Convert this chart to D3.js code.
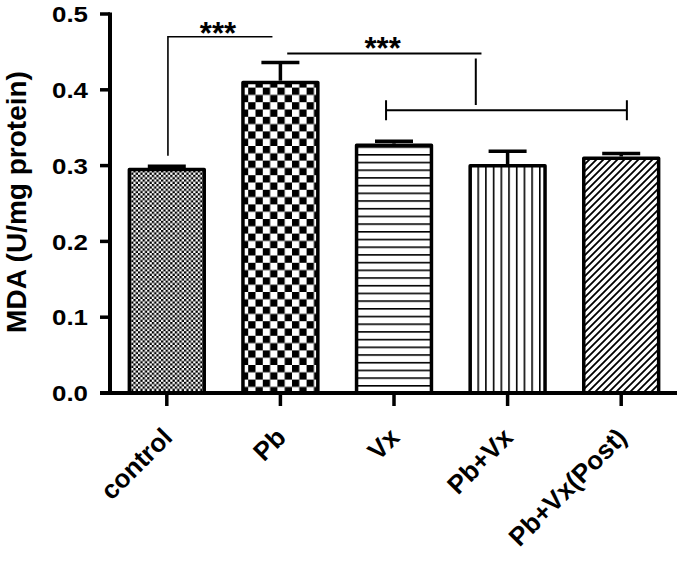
<!DOCTYPE html>
<html>
  <head>
    <meta charset="UTF-8">
    <title>MDA</title>
    <script src="https://d3js.org/d3.v7.min.js"></script>
    <style>
      body { margin: 0; background: #fff; }
      text { font-family: "Liberation Sans", Arial, sans-serif; font-weight: bold; fill: #000; }
    </style>
  </head>
  <body>
    <svg width="685" height="561"></svg>

    <script>

const categories = ["control", "Pb", "Vx", "Pb+Vx", "Pb+Vx(Post)"];
const means = [0.297, 0.412, 0.329, 0.302, 0.312];
const errors = [0.002, 0.024, 0.003, 0.017, 0.004];
const fills = ["fineCheck", "coarseCheck", "hLines", "vLines", "diagLines"];
const yTicks = [0.0, 0.1, 0.2, 0.3, 0.4, 0.5];

// significance brackets, x in category index units, y in data units
const bracketA = { from: 0.01, to: 0.93, y: 0.47, legBottom: 0.313, starsAt: 0.45 };
const bracketB = { from: 1.06, to: 2.77, y: 0.448, drop: 2.72, dropBottom: 0.38,
                   lowFrom: 1.93, lowTo: 4.05, lowY: 0.373, starsAt: 1.90 };

const svg = d3.select("svg");

const x = d3.scaleBand()
  .domain(categories)
  .range([110, 678])
  .paddingInner(0.31)
  .paddingOuter(0.155);

const y = d3.scaleLinear().domain([0, 0.5]).range([393, 14]);

// category index -> pixel (centre of band)
const xi = d3.scaleLinear()
  .domain([0, 1])
  .range([x(categories[0]) + x.bandwidth() / 2, x(categories[1]) + x.bandwidth() / 2]);

// patterns
const defs = svg.append("defs");

function checker(id, s) {
  const p = defs.append("pattern").attr("id", id)
    .attr("patternUnits", "userSpaceOnUse")
    .attr("width", s * 2).attr("height", s * 2);
  p.append("rect").attr("width", s * 2).attr("height", s * 2).attr("fill", "#fff");
  p.append("rect").attr("width", s).attr("height", s).attr("fill", "#000");
  p.append("rect").attr("x", s).attr("y", s).attr("width", s).attr("height", s).attr("fill", "#000");
}
checker("fineCheck", 2.3);
checker("coarseCheck", 7.3);

const hl = defs.append("pattern").attr("id", "hLines")
  .attr("patternUnits", "userSpaceOnUse").attr("width", 10).attr("height", 7.7);
hl.append("rect").attr("width", 10).attr("height", 7.7).attr("fill", "#fff");
hl.append("rect").attr("width", 10).attr("height", 1.6).attr("fill", "#000");

const vl = defs.append("pattern").attr("id", "vLines")
  .attr("patternUnits", "userSpaceOnUse").attr("width", 7.7).attr("height", 10);
vl.append("rect").attr("width", 7.7).attr("height", 10).attr("fill", "#fff");
vl.append("rect").attr("width", 1.6).attr("height", 10).attr("fill", "#000");

const dl = defs.append("pattern").attr("id", "diagLines")
  .attr("patternUnits", "userSpaceOnUse").attr("width", 7).attr("height", 7);
dl.append("rect").attr("width", 7).attr("height", 7).attr("fill", "#fff");
dl.append("path").attr("d", "M-1,8 L8,-1 M-2,2 L2,-2 M5,9 L9,5")
  .attr("stroke", "#000").attr("stroke-width", 1.8);

const rows = categories.map((c, i) => ({ c, m: means[i], e: errors[i], f: fills[i] }));

// error bars (upper only)
const eb = svg.append("g").attr("stroke", "#000").attr("stroke-width", 3.5);
eb.selectAll("line.v").data(rows).join("line").attr("class", "v")
  .attr("x1", d => x(d.c) + x.bandwidth() / 2).attr("x2", d => x(d.c) + x.bandwidth() / 2)
  .attr("y1", d => y(d.m)).attr("y2", d => y(d.m + d.e));
eb.selectAll("line.cap").data(rows).join("line").attr("class", "cap")
  .attr("x1", d => x(d.c) + x.bandwidth() / 2 - 19).attr("x2", d => x(d.c) + x.bandwidth() / 2 + 19)
  .attr("y1", d => y(d.m + d.e)).attr("y2", d => y(d.m + d.e));

// bars
const sw = 3.5;
svg.append("g").selectAll("rect").data(rows).join("rect")
  .attr("x", d => x(d.c) + sw / 2)
  .attr("width", x.bandwidth() - sw)
  .attr("y", d => y(d.m) + sw / 2)
  .attr("height", d => y(0) - y(d.m) - sw / 2)
  .attr("fill", d => `url(#${d.f})`)
  .attr("stroke", "#000").attr("stroke-width", sw)
  .attr("stroke-linejoin", "round");

// axes
const axes = svg.append("g").attr("stroke", "#000");
axes.append("line").attr("x1", 110).attr("x2", 110).attr("y1", y(0.5) - 1.5).attr("y2", y(0))
  .attr("stroke-width", 4);
axes.append("line").attr("x1", 100).attr("x2", 677).attr("y1", y(0)).attr("y2", y(0))
  .attr("stroke-width", 4);
axes.selectAll("line.yt").data(yTicks).join("line").attr("class", "yt")
  .attr("x1", 100).attr("x2", 110).attr("y1", d => y(d)).attr("y2", d => y(d))
  .attr("stroke-width", 3.5);
axes.selectAll("line.xt").data(categories).join("line").attr("class", "xt")
  .attr("x1", d => x(d) + x.bandwidth() / 2).attr("x2", d => x(d) + x.bandwidth() / 2)
  .attr("y1", y(0)).attr("y2", y(0) + 13)
  .attr("stroke-width", 3.5);

svg.append("g").selectAll("text").data(yTicks).join("text")
  .attr("transform", d => `translate(88,${y(d)}) scale(1.15,1)`)
  .attr("dy", "0.36em")
  .attr("text-anchor", "end").attr("font-size", 22.5)
  .text(d => d.toFixed(1));

svg.append("g").selectAll("text").data(categories).join("text")
  .attr("text-anchor", "end").attr("font-size", 26)
  .attr("transform", d => `translate(${x(d) + x.bandwidth() / 2 + 7},439) rotate(-45)`)
  .text(d => d);

svg.append("text")
  .attr("transform", "translate(25.5,202) rotate(-90)")
  .attr("text-anchor", "middle").attr("font-size", 28)
  .text("MDA (U/mg protein)");

// significance brackets
const br = svg.append("g").attr("stroke", "#000").attr("fill", "none");
br.append("path").attr("stroke-width", 1.6)
  .attr("d", `M${xi(bracketA.from)},${y(bracketA.legBottom)} V${y(bracketA.y)} H${xi(bracketA.to)}`);
br.append("path").attr("stroke-width", 2)
  .attr("d", `M${xi(bracketB.from)},${y(bracketB.y)} H${xi(bracketB.to)}
              M${xi(bracketB.drop)},${y(bracketB.y) + 5} V${y(bracketB.dropBottom)}
              M${xi(bracketB.lowFrom)},${y(bracketB.lowY)} H${xi(bracketB.lowTo)}
              M${xi(bracketB.lowFrom)},${y(bracketB.lowY) - 10} v20
              M${xi(bracketB.lowTo)},${y(bracketB.lowY) - 10} v20`);

svg.append("text").attr("x", xi(bracketA.starsAt)).attr("y", y(bracketA.y) + 7)
  .attr("text-anchor", "middle").attr("font-size", 31).attr("font-weight", "normal")
  .text("***");
svg.append("text").attr("x", xi(bracketB.starsAt)).attr("y", y(bracketB.y) + 6)
  .attr("text-anchor", "middle").attr("font-size", 31).attr("font-weight", "normal")
  .text("***");

    </script>
  </body>
</html>
